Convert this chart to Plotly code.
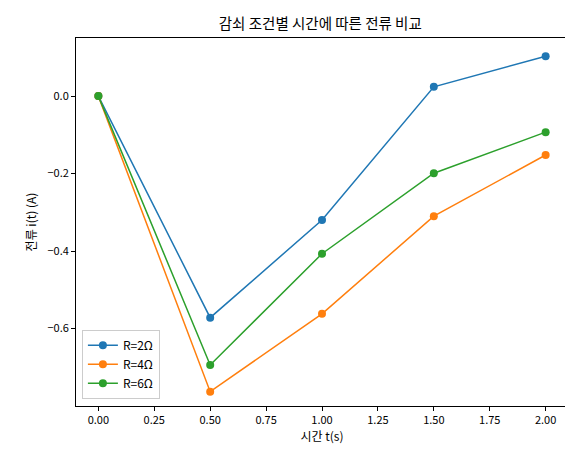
import plotly.graph_objects as go

t = [0.0, 0.5, 1.0, 1.5, 2.0]
i_r2 = [0.0, -0.572, -0.320, 0.024, 0.103]
i_r4 = [0.0, -0.763, -0.562, -0.310, -0.152]
i_r6 = [0.0, -0.694, -0.407, -0.199, -0.093]

series = [("R=2Ω", i_r2, "#1f77b4"), ("R=4Ω", i_r4, "#ff7f0e"), ("R=6Ω", i_r6, "#2ca02c")]

fig = go.Figure()
for name, vals, col in series:
    fig.add_trace(go.Scatter(x=t, y=vals, name=name, mode="lines+markers",
                             line=dict(color=col, width=1.5), marker=dict(size=8, color=col)))

ax = dict(showgrid=False, zeroline=False, showline=True, mirror=True, linecolor="black", linewidth=1,
          ticks="outside", ticklen=4, tickcolor="black", tickfont=dict(size=11, color="black"),
          automargin=False)
fig.update_layout(
    width=573, height=455, template="none",
    font=dict(family="Noto Sans CJK KR", color="black"),
    title=dict(text="감쇠 조건별 시간에 따른 전류 비교", x=0.545, xanchor="center",
               yref="container", y=0.965, yanchor="middle", font=dict(size=14.5)),
    margin=dict(l=68, r=13, t=30, b=57, autoexpand=False),
    xaxis=dict(ax, range=[-0.1, 2.1], tickvals=[0, 0.25, 0.5, 0.75, 1, 1.25, 1.5, 1.75, 2],
               ticktext=["0.00", "0.25", "0.50", "0.75", "1.00", "1.25", "1.50", "1.75", "2.00"],
               title=dict(text="시간 t(s)", font=dict(size=12), standoff=6)),
    yaxis=dict(ax, range=[-0.8, 0.15], tickvals=[0, -0.2, -0.4, -0.6], ticktext=["0.0", "−0.2", "−0.4", "−0.6"],
               title=dict(text="전류 i(t) (A)", font=dict(size=12), standoff=8)),
    legend=dict(x=0.012, y=0.02, xanchor="left", yanchor="bottom", bordercolor="#cccccc",
                borderwidth=1, bgcolor="white", font=dict(size=12)),
    plot_bgcolor="white", paper_bgcolor="white",
)
fig.write_html("out.html")
